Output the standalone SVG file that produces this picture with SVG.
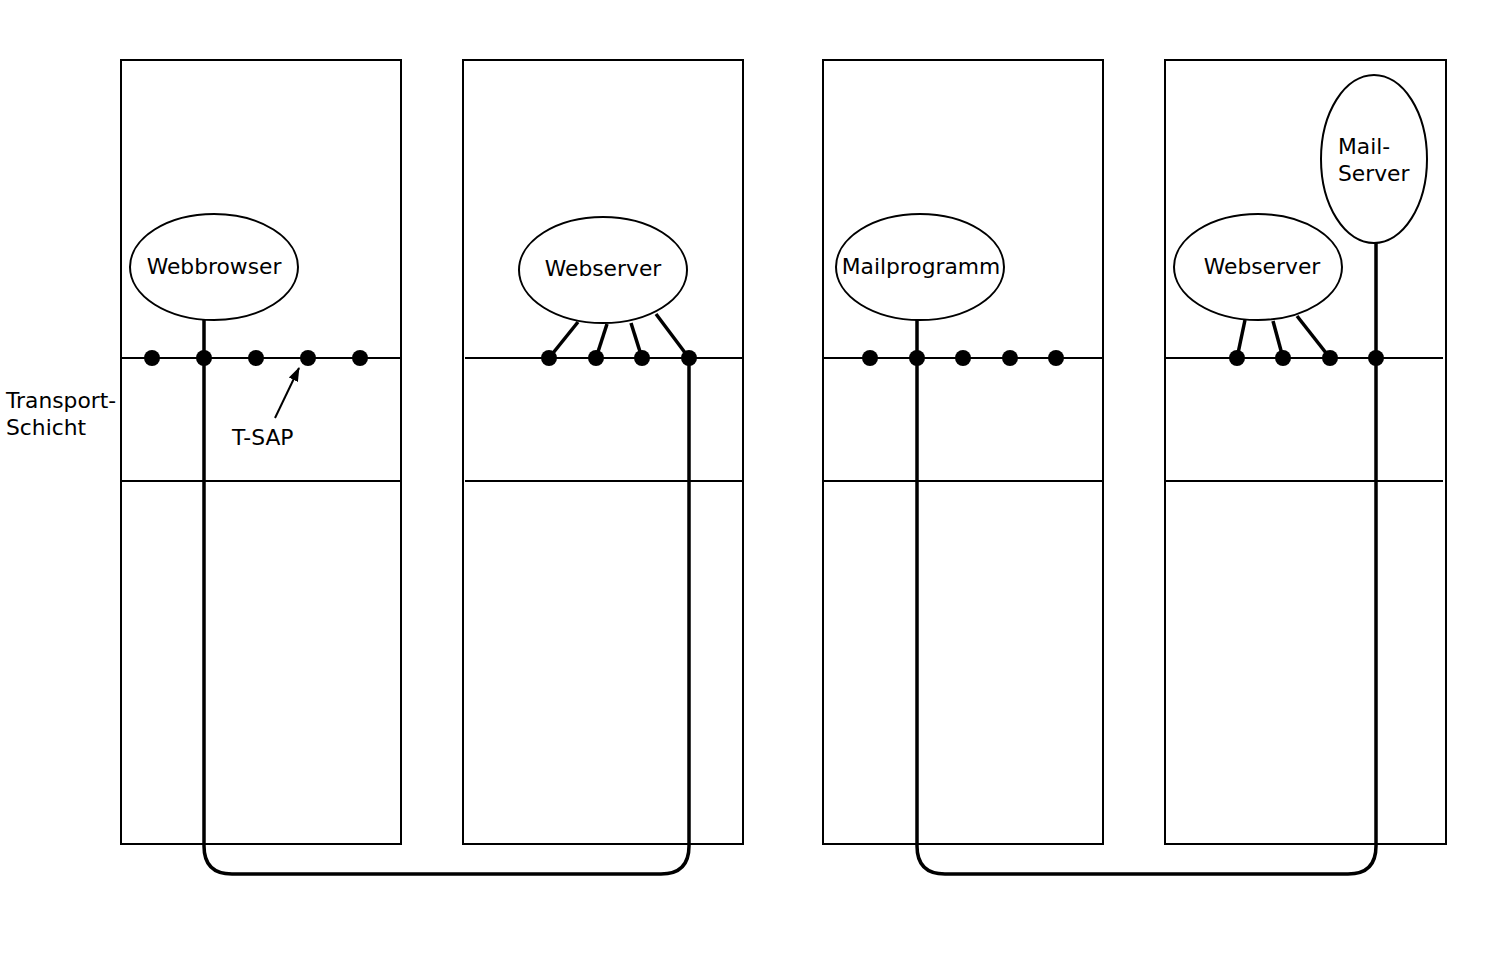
<svg xmlns="http://www.w3.org/2000/svg" width="1489" height="969" viewBox="0 0 1489 969">
<style>
.box{fill:none;stroke:#000;stroke-width:2}
.layer{stroke:#000;stroke-width:2}
.node{fill:#fff;stroke:#000;stroke-width:2}
.thick{fill:none;stroke:#000;stroke-width:3.5}
.dot{fill:#000}
text{font-family:"DejaVu Sans","Liberation Sans",sans-serif;font-size:21.8px;fill:#000}
</style>
<defs>
<marker id="arr" markerWidth="14" markerHeight="12" refX="13" refY="6" orient="auto" markerUnits="userSpaceOnUse" viewBox="0 0 14 12">
<path d="M0,1 L14,6 L0,11 z" fill="#000"/>
</marker>
</defs>
<rect width="1489" height="969" fill="#fff"/>
<g id="host1">
<rect class="box" x="121" y="60" width="280" height="784"/>
<line class="layer" x1="121" y1="358" x2="401" y2="358"/>
<line class="layer" x1="121" y1="481" x2="401" y2="481"/>
</g>
<g id="host2">
<rect class="box" x="463" y="60" width="280" height="784"/>
<line class="layer" x1="465" y1="358" x2="743" y2="358"/>
<line class="layer" x1="465" y1="481" x2="743" y2="481"/>
</g>
<g id="host3">
<rect class="box" x="823" y="60" width="280" height="784"/>
<line class="layer" x1="823" y1="358" x2="1103" y2="358"/>
<line class="layer" x1="823" y1="481" x2="1103" y2="481"/>
</g>
<g id="host4">
<rect class="box" x="1165" y="60" width="281" height="784"/>
<line class="layer" x1="1165" y1="358" x2="1443" y2="358"/>
<line class="layer" x1="1165" y1="481" x2="1443" y2="481"/>
</g>
<g id="connectors">
<path class="thick" d="M204,320 V846 Q204,874 232,874 H661 Q689,874 689,846 V358"/>
<path class="thick" d="M917,320 V846 Q917,874 945,874 H1348 Q1376,874 1376,846 V243"/>
<line class="thick" x1="578" y1="322" x2="549" y2="358"/>
<line class="thick" x1="607" y1="324" x2="596" y2="358"/>
<line class="thick" x1="631" y1="323" x2="642" y2="358"/>
<line class="thick" x1="656" y1="314" x2="689" y2="358"/>
<line class="thick" x1="1245" y1="320" x2="1237" y2="358"/>
<line class="thick" x1="1273" y1="321" x2="1283" y2="358"/>
<line class="thick" x1="1297" y1="316" x2="1330" y2="358"/>
<line x1="275" y1="418" x2="299" y2="368" stroke="#000" stroke-width="2" marker-end="url(#arr)"/>
</g>
<g id="tsaps">
<circle class="dot" cx="152" cy="358" r="8"/>
<circle class="dot" cx="204" cy="358" r="8"/>
<circle class="dot" cx="256" cy="358" r="8"/>
<circle class="dot" cx="308" cy="358" r="8"/>
<circle class="dot" cx="360" cy="358" r="8"/>
<circle class="dot" cx="549" cy="358" r="8"/>
<circle class="dot" cx="596" cy="358" r="8"/>
<circle class="dot" cx="642" cy="358" r="8"/>
<circle class="dot" cx="689" cy="358" r="8"/>
<circle class="dot" cx="870" cy="358" r="8"/>
<circle class="dot" cx="917" cy="358" r="8"/>
<circle class="dot" cx="963" cy="358" r="8"/>
<circle class="dot" cx="1010" cy="358" r="8"/>
<circle class="dot" cx="1056" cy="358" r="8"/>
<circle class="dot" cx="1237" cy="358" r="8"/>
<circle class="dot" cx="1283" cy="358" r="8"/>
<circle class="dot" cx="1330" cy="358" r="8"/>
<circle class="dot" cx="1376" cy="358" r="8"/>
</g>
<g id="webbrowser">
<ellipse class="node" cx="214" cy="267" rx="84" ry="53"/>
<text x="214" y="274" text-anchor="middle">Webbrowser</text>
</g>
<g id="webserver1">
<ellipse class="node" cx="603" cy="270" rx="84" ry="53"/>
<text x="603" y="276" text-anchor="middle">Webserver</text>
</g>
<g id="mailprogramm">
<ellipse class="node" cx="920" cy="267" rx="84" ry="53"/>
<text x="921" y="274" text-anchor="middle">Mailprogramm</text>
</g>
<g id="webserver2">
<ellipse class="node" cx="1258" cy="267" rx="84" ry="53"/>
<text x="1262" y="274" text-anchor="middle">Webserver</text>
</g>
<g id="mailserver">
<ellipse class="node" cx="1374" cy="159" rx="53" ry="84"/>
<text x="1338" y="154">Mail-</text>
<text x="1338" y="181">Server</text>
</g>
<g id="labels">
<text x="6" y="408">Transport-</text>
<text x="6" y="435">Schicht</text>
<text x="232" y="445">T-SAP</text>
</g>
</svg>
